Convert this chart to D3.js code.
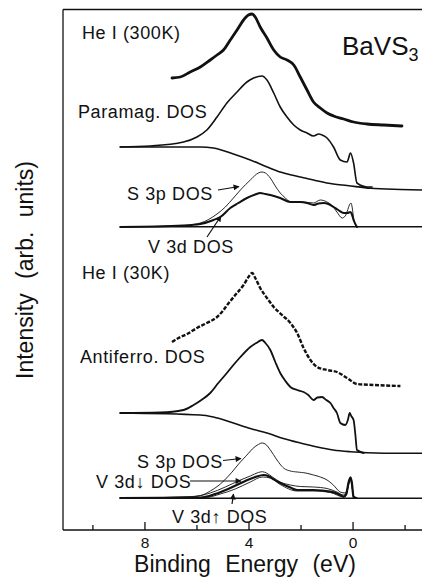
<!DOCTYPE html>
<html><head><meta charset="utf-8">
<script src="https://cdn.jsdelivr.net/npm/d3@7"></script>
<style>
body{margin:0;background:#fff}
svg{display:block}
text{font-family:"Liberation Sans",Arial,Helvetica,sans-serif;fill:#111}
</style>
</head><body>
<svg id="chart" width="422" height="588"></svg>
<script>
// ---- data (binding energy in eV, intensity in arb. units) ----
const xTicks = [10, 8, 6, 4, 2, 0, -2];
const xTickLabels = ["8", "4", "0"];
const xLabelValues = [8, 4, 0];

const he300E = [6.96,6.64,6.26,5.87,5.49,5.23,4.98,4.72,4.46,4.21,4.02,3.88,3.76,3.57,3.31,3.05,2.80,2.54,2.28,2.03,1.77,1.52,1.26,1.00,0.75,0.36,-0.02,-0.54,-1.18,-1.88];
const he300I = [452,453,458,463,470,475,480,490,500,510,515,516,513,503,492,480,473,470,465,453,440,428,422,417,414,411,408,406,405,404];

const paraE = [8.95,7.80,6.52,6.00,5.62,5.23,4.85,4.46,4.08,3.82,3.50,3.31,3.05,2.80,2.54,2.28,2.03,1.77,1.52,1.32,1.19,1.00,0.75,0.49,0.23,0.10,-0.02,-0.15,-0.54,-0.73];
const paraI = [383,384,388,393,400,413,427,438,448,452,454,450,437,423,413,405,400,397,394,396,395,392,383,370,368,377,367,347,343,343];

const bg300E = [8.95,5.87,5.37,4.60,3.95,3.30,2.80,2.03,1.52,0.76,0.23,-0.67,-1.82,-2.65];
const bg300I = [383,383,382,376,370,363,358,353,350,346,344.5,341.7,340.5,340];

const s3p300E = [8.95,6.53,5.87,5.23,4.91,4.60,4.33,3.95,3.64,3.50,3.37,3.18,2.99,2.80,2.60,2.41,1.90,1.52,1.26,1.00,0.83,0.62,0.42,0.30,0.22,0.14,0.08,0.03,-0.02,-0.15];
const s3p300I = [303,304.5,307,316,323,332,340,350,357,358,357,352,344,337,332,328,328,327,330,328,325,318,312,314,319,325,327,322,312,303];

const v3d300E = [8.95,6.53,5.87,5.36,5.10,4.72,4.41,4.08,3.76,3.57,3.37,3.18,2.80,2.41,2.03,1.77,1.52,1.33,1.13,0.95,0.75,0.57,0.36,0.22,0.10,0.05,-0.02,-0.15];
const v3d300I = [303,304.5,306,310,313,322,327,332,335.5,337,336,335,332,328,328,327,325,326.5,327,326,323,320,317,317,318,316,310,303];

const he30E = [6.96,6.71,6.38,6.00,5.62,5.23,5.04,4.78,4.46,4.21,4.02,3.88,3.76,3.57,3.31,3.05,2.73,2.41,2.15,1.90,1.64,1.38,1.00,0.62,0.23,-0.15,-0.79,-1.82];
const he30I = [188,192,196,202,207,213,218,227,237,245,253,257,252,242,232,223,215,207,197,182,170,163,160,158,152,146,145,144];

const afE = [8.95,7.41,6.52,6.13,5.83,5.49,5.18,4.85,4.60,4.33,3.95,3.72,3.50,3.37,3.18,2.99,2.80,2.60,2.41,2.15,1.90,1.72,1.52,1.37,1.19,1.03,0.87,0.75,0.62,0.49,0.30,0.20,0.13,0.07,-0.02,-0.09,-0.15,-0.41];
const afI = [117,117.5,120,125,130,137,147,157,165,173,183,187,190,187,180,168,157,149,143,140,138,135,130,132.5,133,130,127,122,117,107,105,110,117,114,110,95,80,77];

const bg30E = [8.95,5.87,5.37,4.60,3.95,3.31,2.68,2.03,1.38,0.76,0.10,-0.54,-1.82,-2.65];
const bg30I = [117,115,113,107,101.5,97,91.5,87,83,80,78.3,77.3,76.7,76.7];

const s3p30E = [8.95,6.53,5.87,5.49,5.10,4.72,4.33,4.08,3.83,3.64,3.50,3.33,3.18,3.05,2.87,2.67,2.41,2.15,1.83,1.52,1.26,1.00,0.76,0.49,0.30,0.22,0.14,0.10,0.05,-0.02,-0.13];
const s3p30I = [32,33,34.5,39,46,56,68,75,82,85.5,87,85,80,75,68,62,59,58,57,55,53,50,45,38,37,42,50,53,48,33,32];

const vDownE = [8.95,6.26,5.49,4.91,4.33,3.95,3.64,3.49,3.33,3.10,2.80,2.41,2.03,1.52,1.00,0.62,0.37,0.26,0.16,0.10,0.05,-0.02,-0.13];
const vDownI = [32,33,37,43,50,54,57.5,58.3,57,53,48,45,43.5,43,41.5,38,35,37,46,52,46,34,32];

const vTotE = [8.95,5.87,5.30,4.72,4.14,3.76,3.44,3.26,3.07,2.80,2.41,2.15,1.52,0.87,0.57,0.36,0.26,0.17,0.10,0.05,-0.02,-0.13];
const vTotI = [32,32.5,36,42,49,53,55,54,51,47,42.5,40,40,38.3,36,33.3,36,48,52.5,48,33,32];

const vUpE = [8.95,5.68,5.10,4.53,3.95,3.49,3.18,2.80,2.15,1.52,0.87,0.36,0.26,0.17,0.10,0.05,-0.02,-0.13];
const vUpI = [32,32.5,36,41,48,53,52,45.5,39,39,37.5,33,35,46,50,45,33,32];

const zeroLinesE = [8.95, -2.65];
const zeroLevels = [303.3, 31.7];

// ---- drawing ----
const svg = d3.select("#chart");
const x = d3.scaleLinear().domain([11.15, -2.65]).range([63, 422]);
const y = d3.scaleLinear().domain([0, 521]).range([530, 9]);

const line = d3.line().x(d => x(d[0])).y(d => y(d[1])).curve(d3.curveMonotoneX);
const zip = (a, b) => a.map((v, i) => [v, b[i]]);

function curve(E, I, w, extra) {
  const p = svg.append("path").datum(zip(E, I)).attr("d", line)
    .attr("fill", "none").attr("stroke", "#111").attr("stroke-width", w)
    .attr("stroke-linejoin", "round").attr("stroke-linecap", "round");
  if (extra) extra(p);
  return p;
}

// frame
svg.append("line").attr("x1", 63).attr("x2", 63).attr("y1", 9.5).attr("y2", 530).attr("stroke", "#111").attr("stroke-width", 1.3);
svg.append("line").attr("x1", 63).attr("x2", 422).attr("y1", 9.5).attr("y2", 9.5).attr("stroke", "#111").attr("stroke-width", 1.3);

// x axis with inward ticks
const xAxis = svg.append("g").attr("transform", "translate(0,530)");
xAxis.append("line").attr("x1", 63).attr("x2", 422).attr("stroke", "#111").attr("stroke-width", 1.3);
xAxis.selectAll("line.tick").data(xTicks).enter().append("line")
  .attr("x1", d => x(d)).attr("x2", d => x(d))
  .attr("y1", 0).attr("y2", d => xLabelValues.includes(d) ? -8 : -5)
  .attr("stroke", "#111").attr("stroke-width", 1.3);
xAxis.selectAll("text").data(xLabelValues).enter().append("text")
  .attr("x", d => x(d)).attr("y", 17.5).attr("text-anchor", "middle")
  .attr("font-size", 15.5).text((d, i) => xTickLabels[i]);

svg.append("text").attr("x", 245).attr("y", 572).attr("text-anchor", "middle")
  .attr("font-size", 23).attr("word-spacing", 8).text("Binding Energy (eV)");
svg.append("text").attr("transform", "translate(33,270) rotate(-90)").attr("text-anchor", "middle")
  .attr("font-size", 23).attr("word-spacing", 8).text("Intensity (arb. units)");

// zero lines
zeroLevels.forEach(l => {
  svg.append("line").attr("x1", x(zeroLinesE[0])).attr("x2", x(zeroLinesE[1]))
    .attr("y1", y(l)).attr("y2", y(l)).attr("stroke", "#111").attr("stroke-width", 1.6);
});

// curves
curve(he300E, he300I, 2.8);
curve(paraE, paraI, 1.6);
curve(bg300E, bg300I, 1.6);
curve(s3p300E, s3p300I, 0.9);
curve(v3d300E, v3d300I, 2.0);
curve(he30E, he30I, 2.4, p => p.attr("stroke-dasharray", "4,1.6").attr("stroke-linecap", "butt"));
curve(afE, afI, 1.8);
curve(bg30E, bg30I, 1.6);
curve(s3p30E, s3p30I, 0.9, p => p.attr("stroke-dasharray", "1.5,0.6"));
curve(vDownE, vDownI, 0.9);
curve(vUpE, vUpI, 0.9);
curve(vTotE, vTotI, 2.2);

// labels
const lab = (t, px, py, fs) => svg.append("text").attr("x", px).attr("y", py)
  .attr("font-size", fs || 18).attr("letter-spacing", 0.6).text(t);
lab("He I (300K)", 82, 39);
lab("Paramag. DOS", 78, 118);
lab("S 3p DOS", 127, 199.5);
lab("V 3d DOS", 148, 253);
lab("He I (30K)", 82, 279);
lab("Antiferro. DOS", 80, 363);
lab("S 3p DOS", 137, 468);
lab("V 3d\u2193 DOS", 96, 488);
lab("V 3d\u2191 DOS", 172, 523);
const bav = svg.append("text").attr("x", 342).attr("y", 55).attr("font-size", 26);
bav.append("tspan").text("BaVS");
bav.append("tspan").attr("font-size", 18).attr("dy", 6).text("3");

// arrows
const defs = svg.append("defs");
defs.append("marker").attr("id", "ah").attr("viewBox", "0 0 10 10").attr("refX", 9).attr("refY", 5)
  .attr("markerWidth", 7).attr("markerHeight", 6).attr("markerUnits", "userSpaceOnUse").attr("orient", "auto")
  .append("path").attr("d", "M0,0 L10,5 L0,10 z").attr("fill", "#111");
const arrows = [
  [218, 190, 239, 186.5],
  [207, 237, 221, 216],
  [223, 460.5, 241, 458.5],
  [190, 481, 241, 481],
  [232, 504, 233.5, 494]
];
arrows.forEach(a => svg.append("line").attr("x1", a[0]).attr("y1", a[1]).attr("x2", a[2]).attr("y2", a[3])
  .attr("stroke", "#111").attr("stroke-width", 1.2).attr("marker-end", "url(#ah)"));
</script>
</body></html>
